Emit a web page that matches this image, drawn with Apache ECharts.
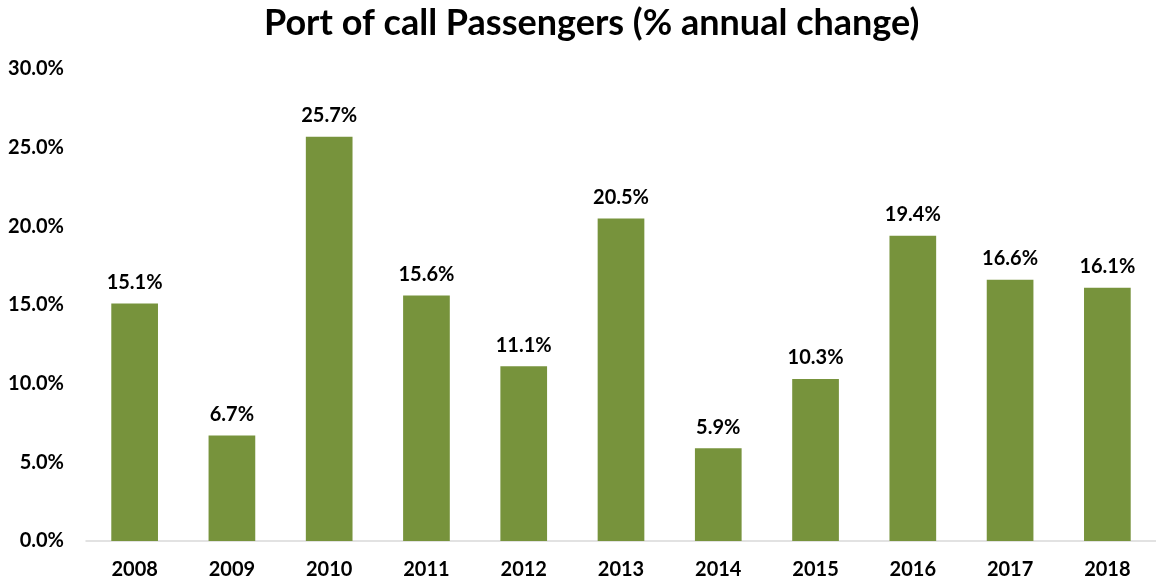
<!DOCTYPE html>
<html>
<head>
<meta charset="utf-8">
<script src="https://cdn.jsdelivr.net/npm/echarts@6/dist/echarts.min.js"></script>
<style>html,body{margin:0;padding:0;background:#fff}#c{width:1156px;height:584px}</style>
</head>
<body>
<div id="c"></div>
<script>
const categories = ['2008','2009','2010','2011','2012','2013','2014','2015','2016','2017','2018'];
const values = [15.1, 6.7, 25.7, 15.6, 11.1, 20.5, 5.9, 10.3, 19.4, 16.6, 16.1];
const title = 'Port of call Passengers (% annual change)';
const font = 'Lato, "Open Sans", sans-serif';
const chart = echarts.init(document.getElementById('c'));
chart.setOption({
  animation: false,
  backgroundColor: '#fff',
  title: { text: title, left: 259, top: 0,
    textStyle: { fontFamily: font, fontWeight: 'bold', fontSize: 36, color: '#000' } },
  grid: { left: 86, width: 1073, top: 69, bottom: 43 },
  xAxis: { type: 'category', data: categories,
    axisLine: { lineStyle: { color: '#d9d9d9', width: 1.5 } },
    axisTick: { show: false },
    axisLabel: { fontFamily: font, fontWeight: 'bold', fontSize: 20, color: '#000', margin: 19 } },
  yAxis: { type: 'value', min: 0, max: 30, interval: 5,
    splitLine: { show: false }, axisLine: { show: false }, axisTick: { show: false },
    axisLabel: { fontFamily: font, fontWeight: 'bold', fontSize: 20, color: '#000', margin: 22,
      formatter: v => v.toFixed(1) + '%' } },
  series: [{ type: 'bar', data: values, barWidth: '48%',
    itemStyle: { color: '#77933C' },
    label: { show: true, position: 'top', distance: 11, fontFamily: font, fontWeight: 'bold', fontSize: 20, color: '#000',
      formatter: p => p.value.toFixed(1) + '%' } }]
});
</script>
</body>
</html>
